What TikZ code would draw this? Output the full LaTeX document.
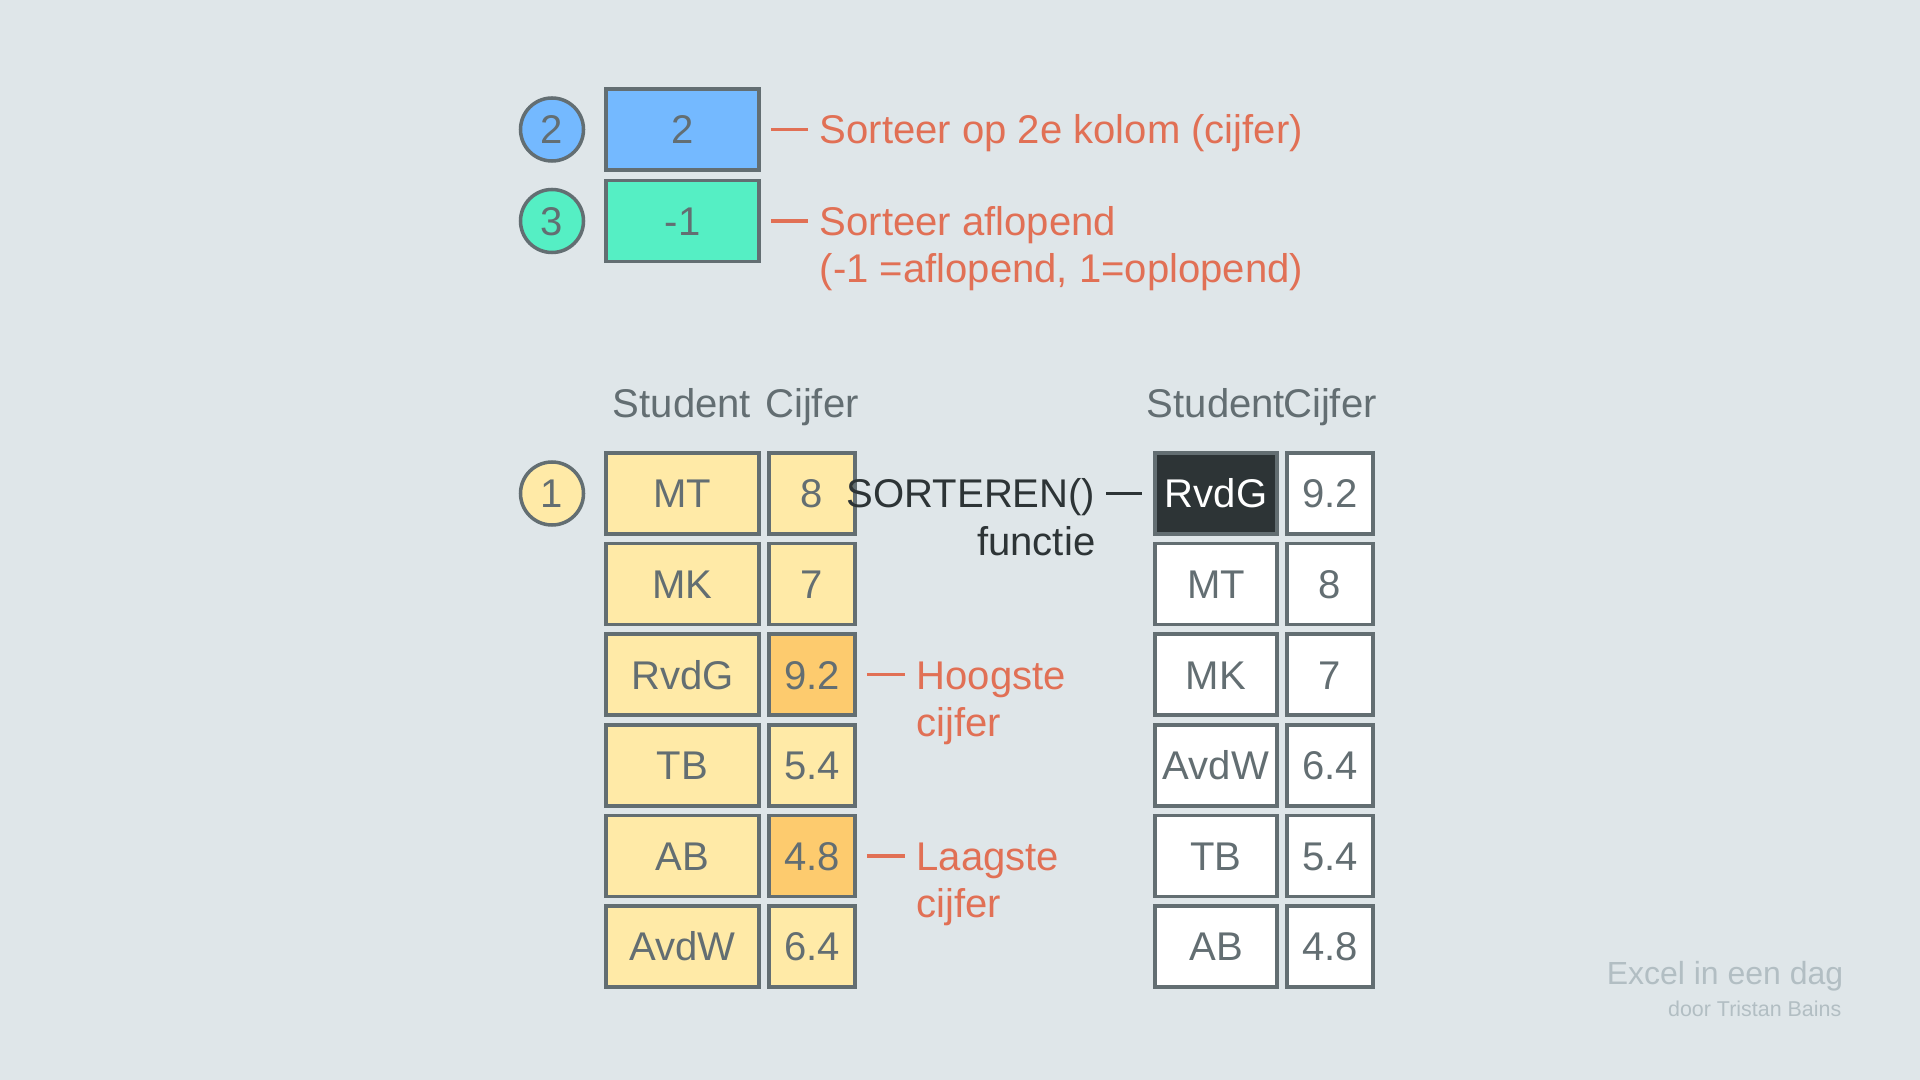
\documentclass[tikz,border=0pt]{standalone}
\usepackage{fontspec}
\setmainfont{Liberation Sans}
\usetikzlibrary{positioning}

\begin{document}
\begin{tikzpicture}[
    cel/.style={draw=rivier, line width=1pt, inner sep=0pt,
        minimum height=0.81cm, text=rivier,
        font=\fontsize{11.4}{13.7}\selectfont,
        text height=10pt, text depth=1.84pt},
    breed/.style={cel, minimum width=1.53cm},
    smal/.style={cel, minimum width=0.86cm},
    rechts/.style={cel, minimum width=1.22cm},
    num/.style={cel, circle, minimum size=0.63cm},
    uitleg/.style={inner sep=0pt, text=oranje, anchor=west,
        font=\fontsize{11.4}{13.7}\selectfont,
        text height=10pt, text depth=1.84pt},
    kop/.style={uitleg, text=rivier, anchor=center},
    streep/.style={line width=1pt, shorten <=0.1cm, shorten >=0.11cm}
]
\definecolor{achter}{HTML}{DFE6E9}
\definecolor{rivier}{HTML}{636E72}
\definecolor{oranje}{HTML}{E17055}
\definecolor{geel}{HTML}{FFEAA7}
\definecolor{goud}{HTML}{FDCB6E}
\definecolor{blauw}{HTML}{74B9FF}
\definecolor{groen}{HTML}{55EFC4}
\definecolor{donker}{HTML}{2D3436}
\definecolor{bries}{HTML}{B2BEC3}

\fill[achter] (0, 0) rectangle (19.2, -10.8);
\useasboundingbox (0, 0) rectangle (19.2, -10.8);

% argumenten bovenaan
\node[num, fill=blauw] (c2) at (5.52, -1.295) {2};
\node[num, fill=groen] (c3) at (5.52, -2.21) {3};
\node[breed, fill=blauw] (kol) at (6.825, -1.295) {2};
\node[breed, fill=groen] (ord) at (6.825, -2.21) {-1};

\node[uitleg] (lbl2) at (8.19, -1.295) {Sorteer op 2e kolom (cijfer)};
\node[uitleg] (lbl3) at (8.19, -2.21) {Sorteer aflopend};
\node[uitleg] (lbl3b) at (8.19, -2.68) {(-1 =aflopend, 1=oplopend)};
\draw[streep, oranje] (kol) -- (lbl2);
\draw[streep, oranje] (ord) -- (lbl3);

% kolomkoppen
\node[kop] (hs) at (6.82, -4.03) {Student};
\node[kop] (hc) at (8.12, -4.03) {Cijfer};
\node[kop] (hs2) at (12.16, -4.03) {Student};
\node[kop] (hc2) at (13.30, -4.03) {Cijfer};

% bronbereik
\node[num, fill=geel] (c1) at (5.52, -4.935) {1};

\node[breed, fill=geel] (l1a) at (6.825, -4.935) {MT};
\node[smal, fill=geel] (l1b) at (8.12, -4.935) {8};
\node[breed, fill=geel] (l2a) at (6.825, -5.841) {MK};
\node[smal, fill=geel] (l2b) at (8.12, -5.841) {7};
\node[breed, fill=geel] (l3a) at (6.825, -6.747) {RvdG};
\node[smal, fill=goud] (l3b) at (8.12, -6.747) {9.2};
\node[breed, fill=geel] (l4a) at (6.825, -7.653) {TB};
\node[smal, fill=geel] (l4b) at (8.12, -7.653) {5.4};
\node[breed, fill=geel] (l5a) at (6.825, -8.559) {AB};
\node[smal, fill=goud] (l5b) at (8.12, -8.559) {4.8};
\node[breed, fill=geel] (l6a) at (6.825, -9.465) {AvdW};
\node[smal, fill=geel] (l6b) at (8.12, -9.465) {6.4};

% uitkomst
\node[rechts, fill=donker, text=white] (r1a) at (12.16, -4.935) {RvdG};
\node[smal, fill=white] (r1b) at (13.30, -4.935) {9.2};
\node[rechts, fill=white] (r2a) at (12.16, -5.841) {MT};
\node[smal, fill=white] (r2b) at (13.30, -5.841) {8};
\node[rechts, fill=white] (r3a) at (12.16, -6.747) {MK};
\node[smal, fill=white] (r3b) at (13.30, -6.747) {7};
\node[rechts, fill=white] (r4a) at (12.16, -7.653) {AvdW};
\node[smal, fill=white] (r4b) at (13.30, -7.653) {6.4};
\node[rechts, fill=white] (r5a) at (12.16, -8.559) {TB};
\node[smal, fill=white] (r5b) at (13.30, -8.559) {5.4};
\node[rechts, fill=white] (r6a) at (12.16, -9.465) {AB};
\node[smal, fill=white] (r6b) at (13.30, -9.465) {4.8};

% functie
\node[uitleg, text=donker, anchor=east] (sort) at (10.96, -4.935) {SORTEREN()};
\node[uitleg, text=donker, anchor=east] (fn) at (10.96, -5.41) {functie};
\draw[streep, donker] (sort) -- (r1a);

% hoogste en laagste
\node[uitleg] (hoog) at (9.16, -6.747) {Hoogste};
\node[uitleg] (hoogb) at (9.16, -7.22) {cijfer};
\node[uitleg] (laag) at (9.16, -8.559) {Laagste};
\node[uitleg] (laagb) at (9.16, -9.03) {cijfer};
\draw[streep, oranje] (l3b) -- (hoog);
\draw[streep, oranje] (l5b) -- (laag);

% naam
\node[text=bries, anchor=east, inner sep=0pt, font=\fontsize{9.1}{11}\selectfont]
    (boek) at (18.44, -9.76) {Excel in een dag};
\node[text=bries, anchor=east, inner sep=0pt, font=\fontsize{6.1}{7.3}\selectfont]
    (door) at (18.42, -10.09) {door Tristan Bains};

\end{tikzpicture}
\end{document}
